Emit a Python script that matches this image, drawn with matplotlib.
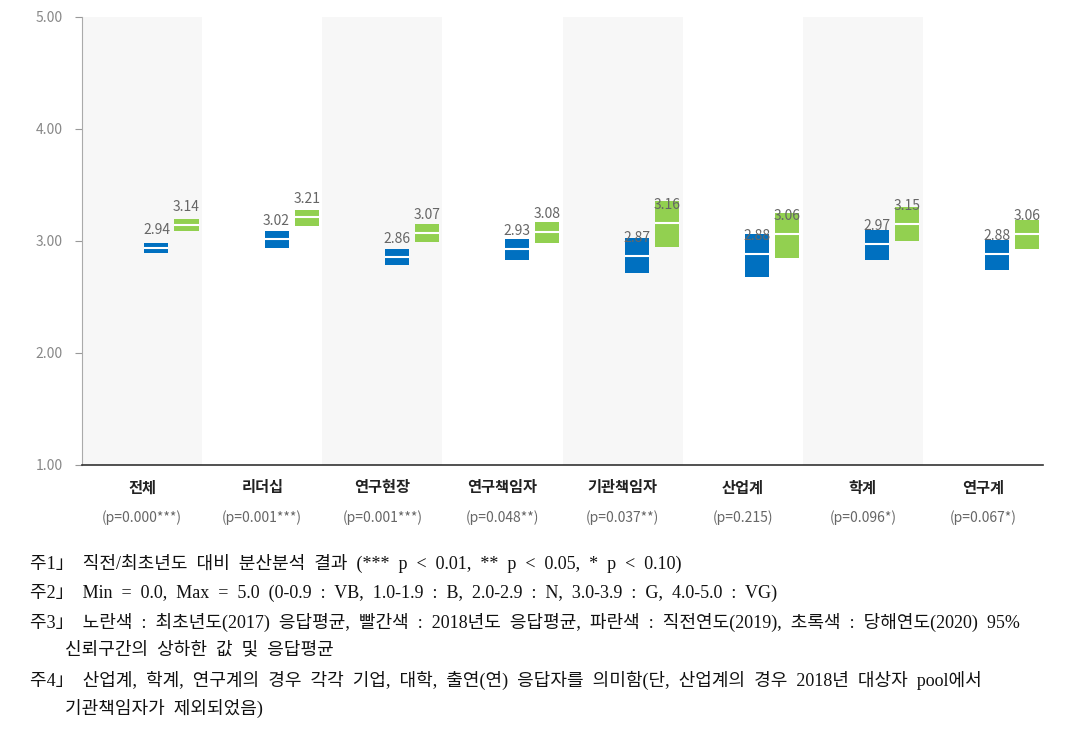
import matplotlib
matplotlib.use("Agg")
import matplotlib.pyplot as plt

plt.rcParams['font.family'] = ['Noto Sans CJK KR', 'DejaVu Sans']

# 범주와 p값
categories = ['전체', '리더십', '연구현장', '연구책임자', '기관책임자', '산업계', '학계', '연구계']
pvalues = ['(p=0.000***)', '(p=0.001***)', '(p=0.001***)', '(p=0.048**)',
           '(p=0.037**)', '(p=0.215)', '(p=0.096*)', '(p=0.067*)']

# 직전연도(2019) 평균 및 95% 신뢰구간
mean_2019 = [2.94, 3.02, 2.86, 2.93, 2.87, 2.88, 2.97, 2.88]
low_2019 = [2.89, 2.94, 2.79, 2.83, 2.71, 2.68, 2.83, 2.74]
high_2019 = [2.98, 3.09, 2.93, 3.02, 3.03, 3.06, 3.10, 3.01]

# 당해연도(2020) 평균 및 95% 신뢰구간
mean_2020 = [3.14, 3.21, 3.07, 3.08, 3.16, 3.06, 3.15, 3.06]
low_2020 = [3.09, 3.13, 2.99, 2.98, 2.95, 2.85, 3.00, 2.93]
high_2020 = [3.20, 3.28, 3.15, 3.17, 3.36, 3.25, 3.30, 3.19]

yticks = [1.0, 2.0, 3.0, 4.0, 5.0]

notes = [
    ('주1」 직전/최초년도 대비 분산분석 결과 (*** p < 0.01, ** p < 0.05, * p < 0.10)', 30),
    ('주2」 Min = 0.0, Max = 5.0 (0-0.9 : VB, 1.0-1.9 : B, 2.0-2.9 : N, 3.0-3.9 : G, 4.0-5.0 : VG)', 30),
    ('주3」 노란색 : 최초년도(2017) 응답평균, 빨간색 : 2018년도 응답평균, 파란색 : 직전연도(2019), 초록색 : 당해연도(2020) 95%', 30),
    ('신뢰구간의 상하한 값 및 응답평균', 65),
    ('주4」 산업계, 학계, 연구계의 경우 각각 기업, 대학, 출연(연) 응답자를 의미함(단, 산업계의 경우 2018년 대상자 pool에서', 30),
    ('기관책임자가 제외되었음)', 65),
]

blue = '#0070C0'
green = '#92D050'

W, H = 1074, 737
fig = plt.figure(figsize=(W / 100, H / 100), dpi=100)
ax = fig.add_axes([82 / W, 1 - 465 / H, (1043 - 82) / W, (465 - 17) / H])

n = len(categories)
for i in range(n):
    if i % 2 == 0:
        ax.axvspan(i - 0.5, i + 0.5, color='#F7F7F7', zorder=0, lw=0)

bw = 0.2
for i in range(n):
    for x0, m, lo, hi, c in [(i + 0.02, mean_2019[i], low_2019[i], high_2019[i], blue),
                             (i + 0.27, mean_2020[i], low_2020[i], high_2020[i], green)]:
        ax.bar(x0, hi - lo, bottom=lo, width=bw, align='edge', color=c, zorder=2)
        ax.hlines(m, x0, x0 + bw, color='white', lw=1.5, zorder=3)
        ax.annotate('%.2f' % m, (x0 + bw / 2, m), xytext=(0, 18), textcoords='offset pixels',
                    ha='center', va='center', fontsize=10, color='#666666', zorder=4)

ax.set_xlim(-0.5, n - 0.5)
ax.set_ylim(1, 5)
ax.set_yticks(yticks)
ax.set_yticklabels(['%.2f' % v for v in yticks], fontsize=10, color='#888888')
ax.set_xticks([])
ax.tick_params(axis='y', length=5, color='#999999', pad=9)

for s in ['top', 'right']:
    ax.spines[s].set_visible(False)
ax.spines['left'].set_color('#AAAAAA')
ax.spines['bottom'].set_color('#333333')
ax.spines['bottom'].set_linewidth(1.2)

for i in range(n):
    ax.text(i, -0.05, categories[i], transform=ax.get_xaxis_transform(), ha='center', va='center',
            fontsize=11, fontweight='bold', color='#222222')
    ax.text(i, -0.117, pvalues[i], transform=ax.get_xaxis_transform(), ha='center', va='center',
            fontsize=10, color='#666666')

ys = [563, 593, 622, 650, 680, 708]
for (t, x), y in zip(notes, ys):
    fig.text(x / W, 1 - y / H, t.replace(' ', '  '), ha='left', va='center', fontsize=13,
             color='#111111', family=['Liberation Serif', 'Noto Sans CJK KR'])

fig.savefig('out.png', dpi=100)
